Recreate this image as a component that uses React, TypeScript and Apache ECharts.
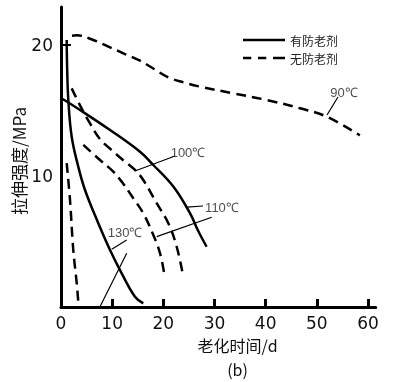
import React, { useEffect, useRef } from "react";
import * as echarts from "echarts";

// ---- data (x: 老化时间/d, y: 拉伸强度/MPa) ----
const xTickValues = [10, 20, 30, 40, 50, 60];
const xLabelValues = [0, 10, 20, 30, 40, 50, 60];
const yLabelValues = [10, 20];
const yTickValues = [20];

// 无防老剂 (dashed)
const dashed90 = [[2.15, 20.71], [3.07, 20.74], [6.31, 20.38], [9.58, 19.82], [12.51, 19.31], [15.44, 18.8], [18.17, 18.17], [20.97, 17.53], [23.9, 17.15], [27.2, 16.82], [33.67, 16.31], [40.2, 15.8], [46.7, 15.17], [51.9, 14.53], [58.4, 13.1]];
const dashedUpper = [[2.09, 16.69], [3.85, 15.29], [5.67, 14.02], [7.62, 12.82], [9.77, 12.02], [12.12, 11.22], [14.46, 10.46], [16.08, 9.69], [18.7, 7.92], [20.97, 6.39], [22.61, 4.6], [23.9, 2.29]];
const dashedLower = [[4.36, 12.37], [7.62, 11.22], [10.22, 10.33], [11.92, 9.54], [14.13, 8.3], [16.08, 7.15], [18.04, 5.5], [19.35, 4.1], [20.32, 2.21]];
const dashed130 = [[1.11, 10.99], [1.76, 8.17], [2.4, 4.35], [3.07, 1.83], [3.38, 0.38]];

// 有防老剂 (solid)
const solidLong = [[0, 15.95], [3.71, 15.04], [9.58, 13.51], [15.44, 11.85], [18.04, 10.84], [21.95, 9.19], [25.2, 7.16], [26.82, 5.8], [28.46, 4.6]];
const solid130 = [[1.11, 20.38], [1.21, 18.09], [1.43, 15.8], [2.09, 13.0], [3.38, 10.71], [4.69, 8.93], [7.29, 6.39], [9.58, 4.35], [11.86, 2.57], [14.46, 0.79], [16.08, 0.28]];

// annotation leaders and labels
const leaders = [
  [[51.98, 14.66], [54.13, 16.03]],
  [[22.28, 11.53], [14.46, 10.38]],
  [[24.62, 7.63], [27.75, 7.71]],
  [[29.45, 6.85], [18.7, 5.37]],
  [[12.84, 5.11], [9.91, 4.4]],
  [[12.84, 4.1], [7.62, 0.02]],
];
const tempLabels = ["90℃", "100℃", "110℃", "130℃"];
const tempLabelX = [55.3, 24.82, 31.46, 12.51];
const tempLabelY = [16.41, 11.83, 7.63, 5.65];

const legendNames = ["有防老剂", "无防老剂"];

export default function App() {
  const ref = useRef<HTMLDivElement>(null);
  useEffect(() => {
    if (!ref.current) return;
    const chart = echarts.init(ref.current, null, { renderer: "svg" });
    const dash = [10, 6];
    const solidStyle = { color: "#000", width: 2.5, type: "solid" as const };
    const dashStyle = { color: "#000", width: 2.5, type: dash };
    const mkLine = (name: string, data: number[][], ls: any) => ({
      type: "line",
      name,
      data,
      smooth: 0.4,
      symbol: "none",
      showSymbol: false,
      lineStyle: ls,
      itemStyle: { color: "#000" },
      silent: true,
      z: 3,
    });
    const series: any[] = [
      mkLine(legendNames[0], solidLong, solidStyle),
      mkLine(legendNames[0], solid130, solidStyle),
      mkLine(legendNames[1], dashed90, dashStyle),
      mkLine(legendNames[1], dashedUpper, dashStyle),
      mkLine(legendNames[1], dashedLower, dashStyle),
      mkLine(legendNames[1], dashed130, dashStyle),
    ];
    leaders.forEach((seg, i) => {
      series.push({
        type: "line",
        name: "leader" + i,
        data: seg,
        symbol: "none",
        lineStyle: { color: "#000", width: 1.2 },
        silent: true,
        z: 2,
      });
    });
    series.push({
      type: "scatter",
      name: "tempLabels",
      data: tempLabels.map((t, i) => ({ name: t, value: [tempLabelX[i], tempLabelY[i]] })),
      symbolSize: 1,
      itemStyle: { color: "rgba(0,0,0,0)" },
      label: {
        show: true,
        position: "inside",
        formatter: "{b}",
        color: "#222",
        fontSize: 13,
        fontFamily: "Liberation Sans, Arial, sans-serif",
      },
      silent: true,
    });

    chart.setOption({
      animation: false,
      grid: { left: 61, right: 24.3, top: 7, bottom: 75, containLabel: false },
      legend: {
        data: [
          { name: legendNames[0], icon: "path://M0,0h42v2.5h-42z" },
          { name: legendNames[1], icon: "path://M0,0h8.3v2.5h-8.3z M15,0h8.3v2.5h-8.3z M30,0h12v2.5h-12z" },
        ],
        orient: "vertical",
        left: 238,
        top: 28,
        itemWidth: 42,
        itemHeight: 14,
        itemGap: 4,
        itemStyle: { color: "#000" },
        textStyle: { fontSize: 12, lineHeight: 14, color: "#222", fontFamily: "Noto Sans CJK SC" },
        selectedMode: false,
      },
      xAxis: {
        type: "value",
        min: 0,
        max: 61.5,
        interval: 10,
        axisLine: { show: true, lineStyle: { color: "#000", width: 3 } },
        axisTick: { show: true, inside: true, length: 8, customValues: xTickValues, lineStyle: { color: "#000", width: 3 } },
        axisLabel: { customValues: xLabelValues, margin: 7, fontSize: 17, color: "#111", fontFamily: "DejaVu Sans" },
        splitLine: { show: false },
      },
      yAxis: {
        type: "value",
        min: 0,
        max: 22.9,
        interval: 10,
        axisLine: { show: true, lineStyle: { color: "#000", width: 3 } },
        axisTick: { show: true, inside: true, length: 10, customValues: yTickValues, lineStyle: { color: "#000", width: 2 } },
        axisLabel: { customValues: yLabelValues, margin: 8, fontSize: 17, color: "#111", fontFamily: "DejaVu Sans" },
        splitLine: { show: false },
      },
      graphic: [
        {
          type: "text",
          x: 18,
          y: 161,
          rotation: Math.PI / 2,
          style: { text: "拉伸强度/MPa", fontSize: 17, lineHeight: 17, fill: "#111", fontFamily: "Noto Sans CJK SC", textAlign: "center", textVerticalAlign: "middle" },
        },
        {
          type: "text",
          x: 237.5,
          y: 345,
          style: { text: "老化时间/d", fontSize: 16, lineHeight: 16, fill: "#111", fontFamily: "Noto Sans CJK SC", textAlign: "center", textVerticalAlign: "middle" },
        },
        {
          type: "text",
          x: 237.5,
          y: 369,
          style: { text: "(b)", fontSize: 16, lineHeight: 16, fill: "#111", fontFamily: "Noto Sans CJK SC", textAlign: "center", textVerticalAlign: "middle" },
        },
      ],
      series,
    });
    return () => chart.dispose();
  }, []);
  return <div ref={ref} style={{ position: "fixed", left: 0, top: 0, width: 400, height: 382 }} />;
}
